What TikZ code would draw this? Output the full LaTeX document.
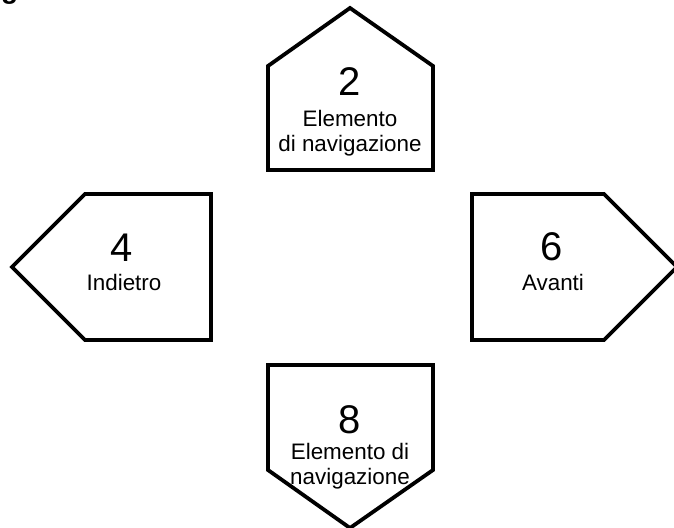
\documentclass[tikz,border=0pt]{standalone}
\usepackage{fontspec}
\setmainfont{Liberation Sans}
\begin{document}
\begin{tikzpicture}[x=1pt, y=-1pt, line join=miter, line cap=butt]
	\useasboundingbox (0,0) rectangle (674,527);
	\tikzset{
		tasto/.style={line width=3.8pt, fill=white},
		cifra/.style={font=\fontsize{40}{44}\selectfont, inner sep=0pt},
		dicitura/.style={font=\fontsize{22.4}{25}\selectfont, inner sep=0pt, align=center}
	}
	%% Khai bao diem
	\path 
	(268,170) coordinate (S1) (268,66) coordinate (S2) (350,8) coordinate (S3)
	(433,66) coordinate (S4) (433,170) coordinate (S5)
	(12,267) coordinate (I1) (85,194) coordinate (I2) (211,194) coordinate (I3)
	(211,340) coordinate (I4) (85,340) coordinate (I5)
	(472,194) coordinate (A1) (604,194) coordinate (A2) (677,267) coordinate (A3)
	(604,340) coordinate (A4) (472,340) coordinate (A5)
	(268,365) coordinate (G1) (433,365) coordinate (G2) (433,470) coordinate (G3)
	(350,528) coordinate (G4) (268,470) coordinate (G5)
	;
	%% ve tasti
	\draw[tasto] (S1)--(S2)--(S3)--(S4)--(S5)--cycle;
	\draw[tasto] (I1)--(I2)--(I3)--(I4)--(I5)--cycle;
	\draw[tasto] (A1)--(A2)--(A3)--(A4)--(A5)--cycle;
	\draw[tasto] (G1)--(G2)--(G3)--(G4)--(G5)--cycle;
	%% cifre
	\foreach \n/\x/\y in {2/350/82, 4/122/248, 6/552/247, 8/350/420}
	\node[cifra] (c\n) at (\x,\y) {\n};
	%% diciture
	\node[dicitura] (d2) at (350,133) {Elemento\\di navigazione};
	\node[dicitura] (d4) at (124,282) {Indietro};
	\node[dicitura] (d6) at (553,282) {Avanti};
	\node[dicitura] (d8) at (350,466) {Elemento di\\navigazione};
	%% titolo tagliato
	\node[font=\fontsize{28}{30}\selectfont\bfseries, inner sep=0pt, anchor=base west] (titolo) at (1,-1) {g};
\end{tikzpicture}
\end{document}
